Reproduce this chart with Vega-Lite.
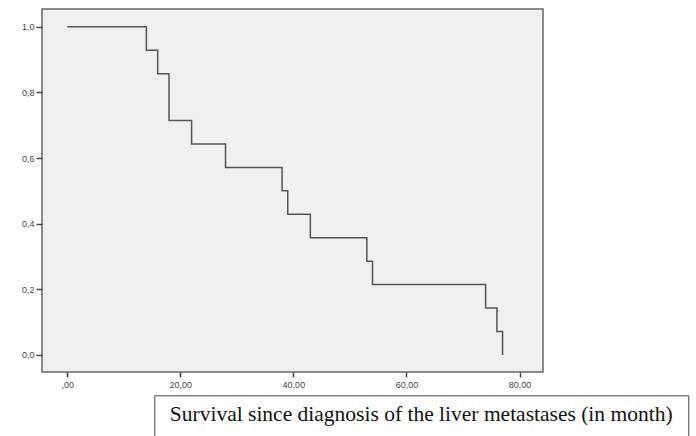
{
  "$schema": "https://vega.github.io/schema/vega-lite/v6.json",
  "autosize": {"type": "none"},
  "padding": {"left": 42, "top": 9, "right": 153, "bottom": 64},
  "width": 501,
  "height": 363,
  "background": "white",
  "config": {
    "view": {"fill": "#f0f0f0", "stroke": "#666666", "strokeWidth": 1.5},
    "axis": {
      "domain": false,
      "grid": false,
      "tickColor": "#444444",
      "tickWidth": 1.5,
      "labelFont": "Liberation Sans",
      "labelFontSize": 9,
      "labelColor": "#444444",
      "title": null
    }
  },
  "data": {
    "values": [
      {"month": 0, "survival": 1.0},
      {"month": 14, "survival": 0.9286},
      {"month": 16, "survival": 0.8571},
      {"month": 18, "survival": 0.7143},
      {"month": 22, "survival": 0.6429},
      {"month": 28, "survival": 0.5714},
      {"month": 38, "survival": 0.5},
      {"month": 39, "survival": 0.4286},
      {"month": 43, "survival": 0.3571},
      {"month": 53, "survival": 0.2857},
      {"month": 54, "survival": 0.2143},
      {"month": 74, "survival": 0.1429},
      {"month": 76, "survival": 0.0714},
      {"month": 77, "survival": 0.0}
    ]
  },
  "mark": {"type": "line", "interpolate": "step-after", "strokeWidth": 1.5},
  "encoding": {
    "x": {
      "field": "month",
      "type": "quantitative",
      "scale": {"domain": [-4.46, 84.15], "nice": false, "zero": false},
      "axis": {
        "values": [0, 20, 40, 60, 80],
        "tickSize": 5,
        "labelPadding": 3,
        "labelExpr": "datum.value == 0 ? ',00' : replace(format(datum.value, '.2f'), '.', ',')"
      }
    },
    "y": {
      "field": "survival",
      "type": "quantitative",
      "scale": {"domain": [-0.052, 1.054], "nice": false, "zero": false},
      "axis": {
        "values": [0, 0.2, 0.4, 0.6, 0.8, 1.0],
        "tickSize": 6,
        "labelPadding": 2,
        "labelExpr": "replace(format(datum.value, '.1f'), '.', ',')"
      }
    },
    "color": {
      "datum": "Survival since diagnosis of the liver metastases (in month)",
      "type": "nominal",
      "scale": {"range": ["#555555"]},
      "legend": {
        "orient": "none",
        "legendX": 112.3,
        "legendY": 386.3,
        "title": null,
        "strokeColor": "#444444",
        "padding": 15,
        "symbolSize": 0,
        "symbolOpacity": 0,
        "symbolStrokeWidth": 0,
        "labelOffset": -21,
        "labelFont": "Liberation Serif",
        "labelFontSize": 21.5,
        "labelColor": "#111111",
        "labelBaseline": "alphabetic",
        "labelLimit": 0
      }
    }
  }
}
